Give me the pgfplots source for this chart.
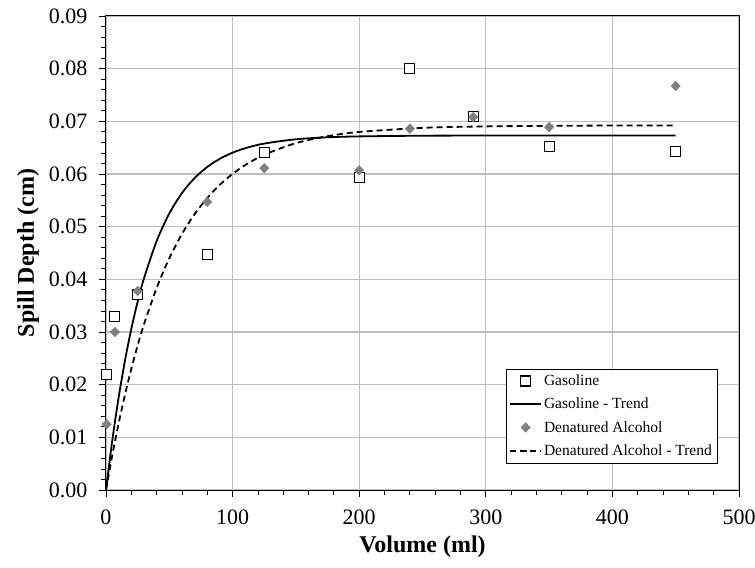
\documentclass[border=0pt]{standalone}
\usepackage{fontspec}
\setmainfont{Liberation Serif}
\usepackage{pgfplots}
\pgfplotsset{compat=1.18}

\definecolor{gridgray}{RGB}{191,191,191}
\definecolor{alcgray}{RGB}{128,128,128}

\begin{document}
\begin{tikzpicture}
\useasboundingbox (-106bp,-78bp) rectangle (649bp,490bp);
\begin{axis}[
  at={(0,0)}, anchor=south west,
  width=633bp, height=474bp, scale only axis,
  xmin=0, xmax=500, ymin=0, ymax=0.09,
  xtick={0,100,200,300,400,500},
  ytick={0,0.01,0.02,0.03,0.04,0.05,0.06,0.07,0.08,0.09},
  minor x tick num=4, minor y tick num=4,
  xmajorgrids, ymajorgrids,
  grid style={gridgray, line width=1.2bp},
  axis line style={black, line width=1bp},
  tick align=outside, xtick pos=left, ytick pos=left,
  major tick length=7bp, minor tick length=5bp,
  tick style={black, line width=0.8bp},
  ticklabel style={font=\fontsize{22bp}{26bp}\selectfont},
  xticklabel style={yshift=-9bp},
  yticklabel style={xshift=-8bp},
  /pgf/number format/assume math mode=true,
  scaled y ticks=false,
  yticklabel style={/pgf/number format/.cd, fixed, fixed zerofill, precision=2},
  xlabel={Volume (ml)}, ylabel={Spill Depth (cm)},
  label style={font=\bfseries\fontsize{24bp}{28bp}\selectfont},
  xlabel style={at={(axis description cs:0.5,-0.1203)}, anchor=center},
  ylabel style={at={(axis description cs:-0.1232,0.5)}, anchor=center},
  legend cell align=left,
  legend style={at={(0.9652,0.057)}, anchor=south east, draw=black,
    font=\fontsize{15.5bp}{18bp}\selectfont,
    row sep=7bp, inner ysep=4bp},
  legend image code/.code={\draw[mark repeat=2,mark phase=2,#1]
    plot coordinates {(0bp,0bp) (15.5bp,0bp) (31bp,0bp)};},
]
% measured spill depths, gasoline
\addplot[only marks, mark=square*, mark size=5bp,
  mark options={draw=black, fill=white, line width=1.1bp}]
  coordinates {
  (0.5,0.0220) (7,0.0330) (25,0.0371) (80,0.0448) (125,0.0641)
  (200,0.0594) (240,0.0801) (290,0.0710) (350,0.0653) (450,0.0642)};
\addlegendentry{Gasoline}
% fitted trend, gasoline
\addplot[black, line width=1.8bp, mark=none, smooth] coordinates {
  (0,0) (5,0.00946) (10,0.01759) (15,0.02458) (20,0.03059) (25,0.03575)
  (30,0.04018) (40,0.04727) (50,0.05251) (60,0.05638) (70,0.05923)
  (80,0.06134) (90,0.06290) (100,0.06405) (110,0.06490) (125,0.06578)
  (150,0.06659) (175,0.06697) (200,0.06714) (250,0.06727) (300,0.0673)
  (350,0.0673) (400,0.0673) (450,0.0673)};
\addlegendentry{Gasoline - Trend}
% measured spill depths, denatured alcohol
\addplot[only marks, mark=diamond*, mark size=4.8bp,
  mark options={draw=alcgray, fill=alcgray, xscale=1.3}]
  coordinates {
  (0.5,0.0125) (7,0.0300) (25,0.0378) (80,0.0547) (125,0.0611)
  (200,0.0607) (240,0.0686) (290,0.0708) (350,0.0689) (450,0.0767)};
\addlegendentry{Denatured Alcohol}
% fitted trend, denatured alcohol
\addplot[black, line width=1.8bp, dash pattern=on 6bp off 4bp, mark=none, smooth]
  coordinates {
  (0,0) (5,0.00665) (10,0.01266) (15,0.01809) (20,0.02300) (25,0.02744)
  (30,0.03145) (40,0.03836) (50,0.04400) (60,0.04861) (70,0.05238)
  (80,0.05545) (90,0.05797) (100,0.06002) (110,0.06170) (125,0.06366)
  (150,0.06586) (175,0.06718) (200,0.06798) (250,0.06876) (300,0.06904)
  (350,0.06914) (400,0.0692) (450,0.0692)};
\addlegendentry{Denatured Alcohol - Trend}
\end{axis}
\end{tikzpicture}
\end{document}
